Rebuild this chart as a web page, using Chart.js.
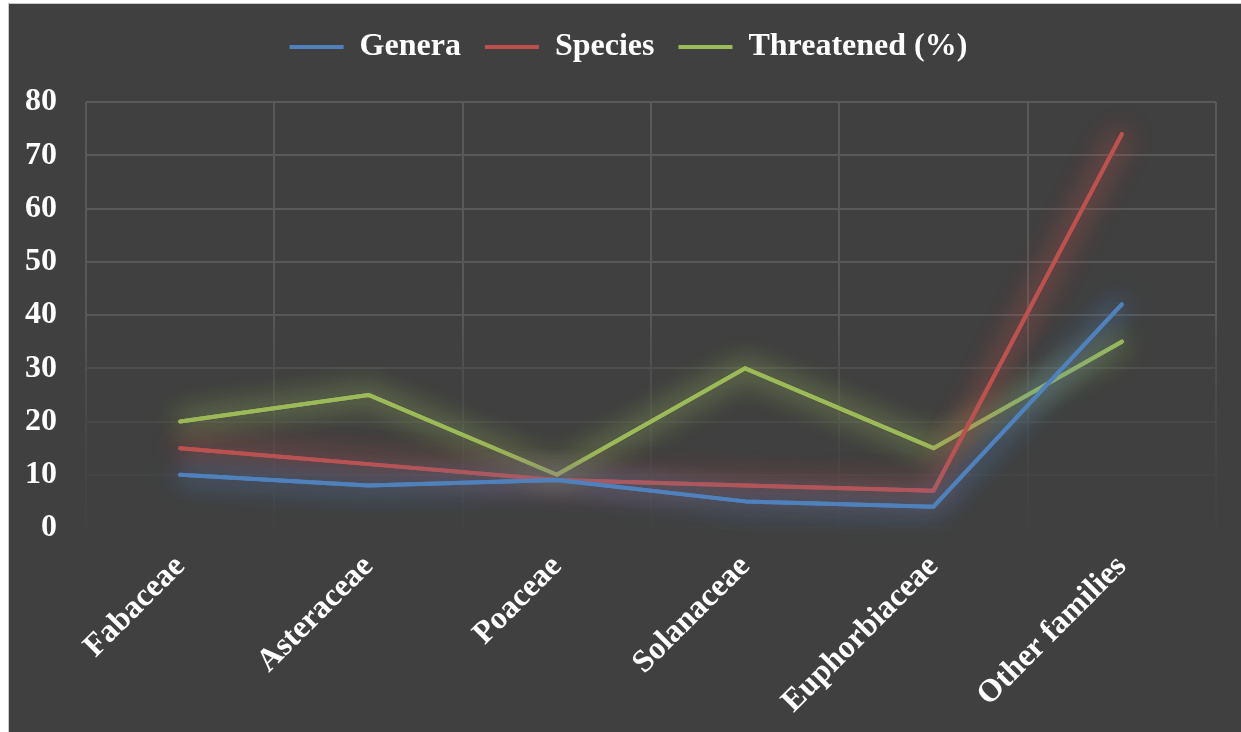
<!DOCTYPE html>
<html>
<head>
<meta charset="utf-8">
<script src="https://cdn.jsdelivr.net/npm/chart.js@4/dist/chart.umd.min.js"></script>
<style>
    html, body {
        margin: 0;
        padding: 0;
        background: #ffffff;
        overflow: hidden;
    }
    .frame {
        position: absolute;
        left: 8px;
        top: 3px;
        width: 1233px;
        height: 729px;
        border-left: 1px solid #c8c8c8;
        border-top: 1px solid #c8c8c8;
        background: #404040;
    }
    #canvas {
        display: block;
    }
</style>
</head>
<body>
<div class="frame">
    <canvas id="canvas" width="1232" height="728"></canvas>
</div>
<script>
const families = ['Fabaceae', 'Asteraceae', 'Poaceae', 'Solanaceae', 'Euphorbiaceae', 'Other families']
const genera = [10, 8, 9, 5, 4, 42]
const species = [15, 12, 9, 8, 7, 74]
const threatened = [20, 25, 10, 30, 15, 35]
const yTicks = [0, 10, 20, 30, 40, 50, 60, 70, 80]

const glowColors = ['rgba(79,129,189,1)', 'rgba(192,80,77,1)', 'rgba(155,187,89,1)']

// soft glow behind each line, like the office "glow" effect
const glowPlugin = {
    id: 'glow',
    afterLayout: chart => {
        // nudge the legend a little to the right
        chart.legend.left += 16
        chart.legend.right += 16
    },
    beforeDatasetDraw: (chart, args) => {
        const ctx = chart.ctx
        ctx.save()
        ctx.shadowColor = glowColors[args.index]
        ctx.shadowBlur = 28
        // extra pass so the glow is a bit stronger
        args.meta.dataset.draw(ctx, chart.chartArea)
    },
    afterDatasetDraw: chart => {
        chart.ctx.restore()
    }
}

// grid fades out towards the bottom of the plot
const gridColor = context => {
    const chart = context.chart
    const area = chart.chartArea
    if (!area) return '#595959'
    const g = chart.ctx.createLinearGradient(0, area.top, 0, area.bottom)
    g.addColorStop(0, '#5a5a5a')
    g.addColorStop(0.5, '#585858')
    g.addColorStop(0.63, '#4e4e4e')
    g.addColorStop(0.75, '#484848')
    g.addColorStop(0.88, '#444444')
    g.addColorStop(1, '#424242')
    return g
}

const font = (size) => ({
    family: '"Liberation Serif", "Times New Roman", serif',
    size: size,
    weight: 'bold'
})

const makeSet = (label, data, color) => ({
    label,
    data,
    borderColor: color,
    backgroundColor: color,
    borderWidth: 4,
    borderCapStyle: 'round',
    borderJoinStyle: 'round',
    pointRadius: 0,
    tension: 0,
    fill: false
})

const ctx = document.querySelector('#canvas').getContext('2d')
const myChart = new Chart(ctx, {
    type: 'line',
    data: {
        labels: families,
        datasets: [
            makeSet('Genera', genera, '#4f81bd'),
            makeSet('Species', species, '#c0504d'),
            makeSet('Threatened (%)', threatened, '#9bbb59')
        ]
    },
    plugins: [glowPlugin],
    options: {
        responsive: false,
        animation: false,
        layout: {
            padding: { left: 0, right: 25, top: 3, bottom: 0 }
        },
        plugins: {
            tooltip: { enabled: false },
            legend: {
                display: true,
                position: 'top',
                labels: {
                    color: '#ffffff',
                    font: font(32),
                    usePointStyle: true,
                    pointStyle: 'line',
                    pointStyleWidth: 54,
                    padding: 24
                }
            },
            // empty title, only used as spacing under the legend
            title: {
                display: true,
                text: '',
                weight: 500,
                font: { size: 1 },
                padding: { top: 0, bottom: 28 }
            }
        },
        scales: {
            x: {
                offset: true,
                afterFit: axis => {
                    axis.height = 204
                    axis.paddingLeft = 0
                    axis.paddingRight = 0
                },
                grid: {
                    offset: true,
                    color: gridColor,
                    lineWidth: 2,
                    drawTicks: false
                },
                border: { display: false },
                ticks: {
                    color: '#ffffff',
                    font: font(32),
                    minRotation: 45,
                    maxRotation: 45,
                    padding: 20
                }
            },
            y: {
                min: 0,
                max: 80,
                afterFit: axis => {
                    axis.width = 77
                },
                afterBuildTicks: axis => {
                    axis.ticks = yTicks.map(v => ({ value: v }))
                },
                grid: {
                    color: gridColor,
                    lineWidth: 2,
                    drawTicks: false
                },
                border: { display: false },
                ticks: {
                    color: '#ffffff',
                    font: font(32),
                    padding: 29
                }
            }
        }
    }
})
</script>
</body>
</html>
